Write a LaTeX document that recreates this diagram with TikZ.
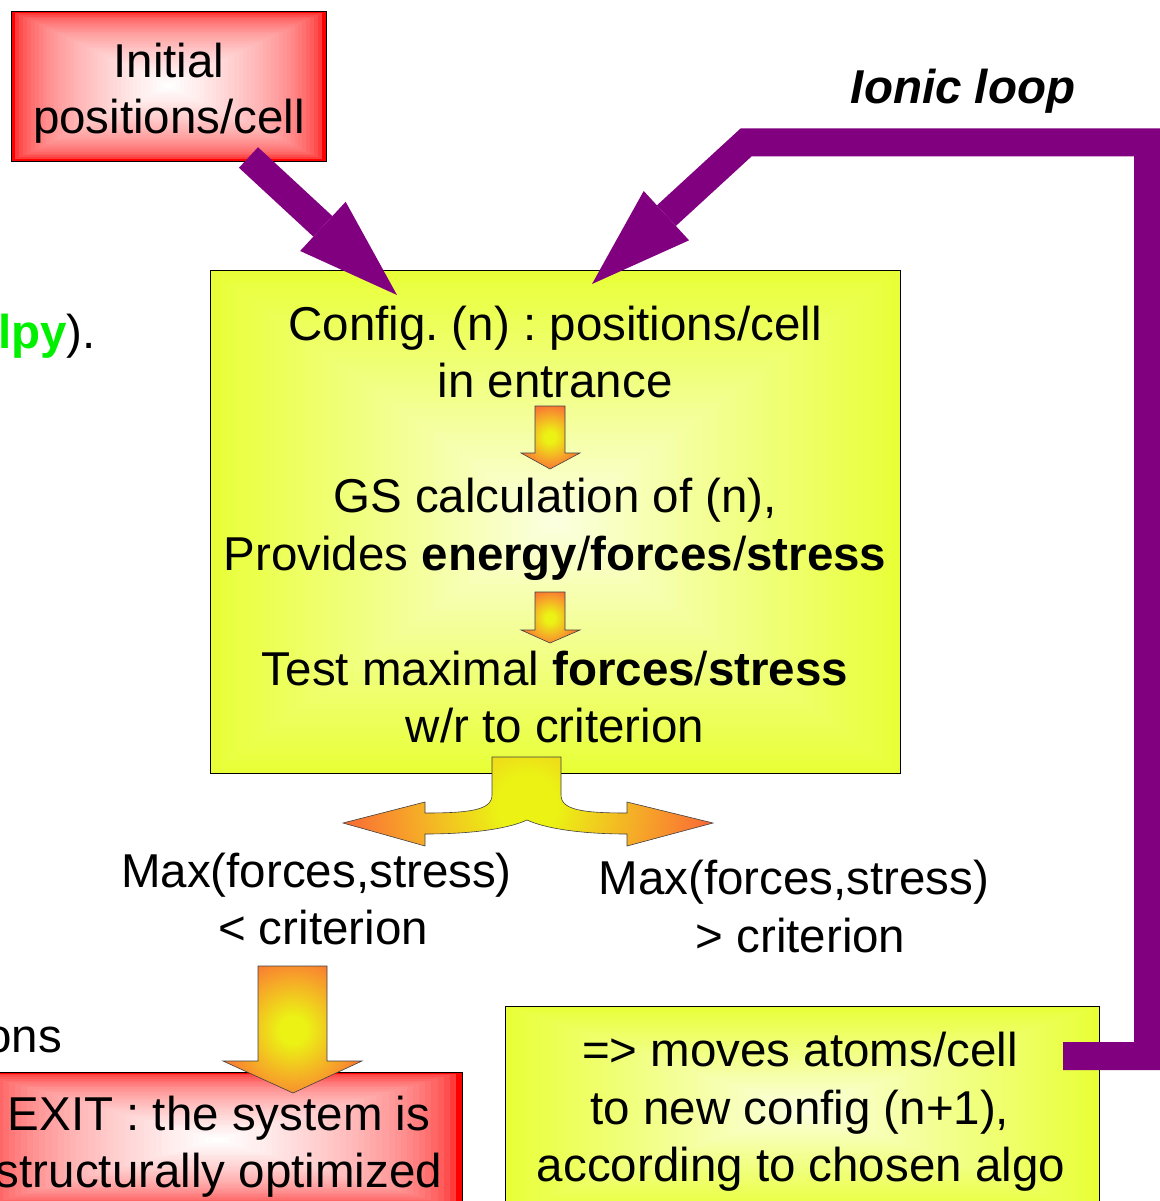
\documentclass[tikz,border=0pt]{standalone}
\usepackage{fontspec}
\setmainfont{Liberation Sans}
\frenchspacing
\usetikzlibrary{calc,arrows.meta}
\definecolor{lpurple}{RGB}{128,0,128}
\definecolor{redEdge}{RGB}{255,0,0}
\definecolor{redMid}{RGB}{255,255,255}
\definecolor{yelEdge}{RGB}{232,255,56}
\definecolor{yelMid}{RGB}{252,255,222}
\definecolor{gA}{RGB}{235,242,20}
\definecolor{gB}{RGB}{246,168,40}
\definecolor{gC}{RGB}{250,100,55}
\definecolor{lgreen}{RGB}{0,240,0}
\pgfdeclareradialshading{glow}{\pgfpoint{0bp}{0bp}}{color(0bp)=(gA); color(4bp)=(gA); color(15bp)=(gB); color(25bp)=(gC); color(50bp)=(gC)}
\tikzset{
  rgrad/.style n args={3}{path picture={
    \foreach \i in {0,...,39}{
      \pgfmathsetmacro\gradT{\i/40}
      \pgfmathsetmacro\gradP{100*(\i/39)^#3}
      \fill[fill={#2!\gradP!#1}] ($(path picture bounding box.south west)!\gradT!(path picture bounding box.center)$) rectangle ($(path picture bounding box.north east)!\gradT!(path picture bounding box.center)$);
    }}},
  box/.style={draw=black, line width=0.9pt, inner sep=0pt, outer sep=0pt},
  txt/.style={font=\fontsize{47.5pt}{57pt}\selectfont, inner sep=0pt, anchor=base},
  glowline/.style={draw=black!75, line width=0.6pt},
  fat/.style={draw=lpurple, line width=28pt, line join=miter, -{Triangle[length=101pt,width=67pt,line width=0pt]}}
}
\begin{document}
\begin{tikzpicture}[x=1pt,y=-1pt]
\useasboundingbox (0,0) rectangle (1159,1201);

% boxes
\node[box, rgrad={redEdge}{redMid}{0.4}, minimum width=315pt, minimum height=150pt] (init) at (168.5,86) {};
\node[box, rgrad={yelEdge}{yelMid}{1}, minimum width=690pt, minimum height=503pt] (cfg) at (555,521.5) {};
\node[box, rgrad={redEdge}{redMid}{0.4}, minimum width=490pt, minimum height=136pt] (exitb) at (217,1140) {};
\node[box, rgrad={yelEdge}{yelMid}{1}, minimum width=594pt, minimum height=206pt] (move) at (802,1109) {};

% texts in initial box
\node[txt] (i1) at (169,78) {Initial};
\node[txt] (i2) at (169,134) {positions/cell};

% texts in config box
\node[txt] (c1) at (555,340) {Config. (n) : positions/cell};
\node[txt] (c2) at (555,397) {in entrance};
\node[txt] (c3) at (555,512) {GS calculation of (n),};
\node[txt] (c4) at (555,570) {Provides \textbf{energy}/\textbf{forces}/\textbf{stress}};
\node[txt] (c5) at (555,685) {Test maximal \textbf{forces}/\textbf{stress}};
\node[txt] (c6) at (555,742) {w/r to criterion};

% small arrows inside config box
\draw[glowline, path picture={\shade[shading=glow] (550,437) circle[radius=36pt];}]
  (535,406) -- (565,406) -- (565,453) -- (580,453) -- (550,469) -- (521,453) -- (535,453) -- cycle;
\draw[glowline, path picture={\shade[shading=glow] (550,618) circle[radius=32pt];}]
  (535,592) -- (565,592) -- (565,630) -- (580,630) -- (550,643) -- (521,630) -- (535,630) -- cycle;

% fork arrow
\draw[glowline, path picture={\shade[shading=glow] (527,805) circle[radius=190pt];}]
  (492,757) -- (492,795) .. controls (492,810) and (470,813) .. (425,813) -- (425,802) -- (343,823) -- (425,846) -- (425,834)
  .. controls (475,834) and (510,828) .. (527,820) .. controls (544,828) and (579,834) .. (627,834)
  -- (627,846) -- (713,823) -- (627,802) -- (627,813) .. controls (583,813) and (561,810) .. (561,795) -- (561,757) -- cycle;

% branch labels
\node[txt] (l1) at (316.5,887) {Max(forces,stress)};
\node[txt] (l2) at (323,944) {< criterion};
\node[txt] (r1) at (794,894) {Max(forces,stress)};
\node[txt] (r2) at (800.5,952) {> criterion};

% big down arrow
\draw[glowline, path picture={\shade[shading=glow] (293,1030) circle[radius=85pt];}]
  (258,966) -- (327,966) -- (327,1061) -- (362,1061) -- (293,1093) -- (223,1061) -- (258,1061) -- cycle;

% exit text
\node[txt] (e1) at (219,1130) {EXIT : the system is};
\node[txt] (e2) at (219,1187) {structurally optimized};

% move text
\node[txt] (m1) at (800,1066) {=> moves atoms/cell};
\node[txt] (m2) at (800,1124) {to new config (n+1),};
\node[txt] (m3) at (801,1181) {according to chosen algo};

% partial texts at left
\node[txt, anchor=base east] (lpy) at (96,348) {\textcolor{lgreen}{\textbf{lpy}}).};
\node[txt, anchor=base east] (ons) at (62,1052) {ons};

% ionic loop label
\node[txt] (ionic) at (963,104) {\bfseries\itshape Ionic loop};

% purple connectors
\coordinate (a1s) at (248.5,157.5);
\coordinate (a1e) at (397,295);
\draw[fat] (a1s) -- (a1e);

\coordinate (ls) at (1063,1056);
\coordinate (le) at (592,284);
\draw[fat] (ls) -- (1148,1056) -- (1148,142.5) -- (746,142.5) -- (le);
\end{tikzpicture}
\end{document}
